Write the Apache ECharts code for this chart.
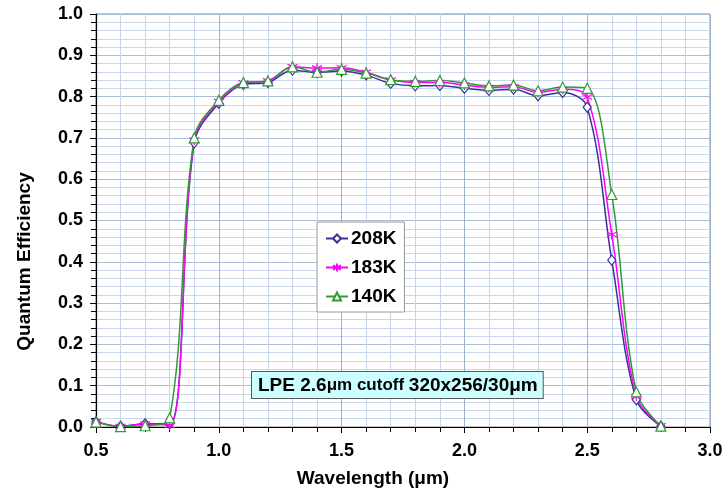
<!DOCTYPE html>
<html lang="en">
<head>
<meta charset="UTF-8">
<title>Quantum Efficiency</title>
<script src="https://cdn.jsdelivr.net/npm/echarts@6/dist/echarts.min.js"></script>
<style>
  html, body { margin: 0; padding: 0; background: #fff; }
  #chart { width: 727px; height: 493px; }
</style>
</head>
<body>
<div id="chart"></div>
<script>
// wavelength (um)
var wavelength = [0.5, 0.6, 0.7, 0.8, 0.9, 1.0, 1.1, 1.2, 1.3, 1.4, 1.5, 1.6,
                  1.7, 1.8, 1.9, 2.0, 2.1, 2.2, 2.3, 2.4, 2.5, 2.6, 2.7, 2.8];
var qe208 = [0.013, 0.002, 0.008, 0.008, 0.688, 0.784, 0.829, 0.834, 0.864, 0.858, 0.862, 0.852,
             0.832, 0.826, 0.827, 0.820, 0.815, 0.818, 0.802, 0.810, 0.774, 0.404, 0.066, 0.002];
var qe183 = [0.013, 0.001, 0.007, 0.004, 0.695, 0.788, 0.833, 0.838, 0.872, 0.869, 0.870, 0.859,
             0.840, 0.834, 0.834, 0.828, 0.822, 0.824, 0.810, 0.818, 0.799, 0.466, 0.074, 0.003];
var qe140 = [0.012, 0.001, 0.003, 0.022, 0.700, 0.791, 0.834, 0.838, 0.872, 0.859, 0.866, 0.857,
             0.841, 0.837, 0.839, 0.833, 0.826, 0.828, 0.814, 0.823, 0.820, 0.563, 0.085, 0.002];
var seriesNames = ['208K', '183K', '140K'];
var seriesColors = ['#333399', '#ff00ff', '#339933'];

var asterisk = 'path://M5,0L5,10M0.7,2.5L9.3,7.5M0.7,7.5L9.3,2.5';

function pairs(ys) {
  return wavelength.map(function (x, i) { return [x, ys[i]]; });
}

function makeSeries(name, ys, color, symbol, size) {
  return {
    name: name,
    type: 'line',
    data: pairs(ys),
    smooth: 0.35,
    symbol: symbol,
    symbolSize: size,
    showAllSymbol: true,
    lineStyle: { color: color, width: 1.5 },
    itemStyle: { color: '#ffffff', borderColor: color, borderWidth: 1.2 },
    emphasis: { disabled: true }
  };
}

var bold = 'Liberation Sans';
var chart = echarts.init(document.getElementById('chart'));
chart.setOption({
  animation: false,
  textStyle: { fontFamily: bold },
  grid: { left: 96, right: 17, top: 14, bottom: 65, show: true, borderColor: '#888888', borderWidth: 1 },
  legend: {
    orient: 'vertical',
    left: 317, top: 222,
    data: seriesNames,
    backgroundColor: '#ffffff',
    borderColor: '#999999', borderWidth: 1, borderRadius: 0,
    padding: [7, 8, 6, 8],
    itemGap: 10,
    itemWidth: 22, itemHeight: 10,
    textStyle: { fontFamily: bold, fontWeight: 'bold', fontSize: 19, color: '#000', padding: [0, 0, 0, -2] }
  },
  xAxis: {
    type: 'value',
    min: 0.5, max: 3.0, interval: 0.5,
    name: 'Wavelength (\u03bcm)',
    nameLocation: 'middle', nameGap: 42,
    nameTextStyle: { fontFamily: bold, fontWeight: 'bold', fontSize: 19, color: '#000', padding: [0, 60, 0, 0] },
    axisLine: { lineStyle: { color: '#000', width: 1.2 } },
    axisTick: { inside: false, length: 6, lineStyle: { color: '#000' } },
    minorTick: { show: true, splitNumber: 5, length: 5, lineStyle: { color: '#000' } },
    axisLabel: {
      fontFamily: bold, fontWeight: 'bold', fontSize: 18, color: '#000', margin: 15,
      formatter: function (v) { return v.toFixed(1); }
    },
    splitLine: { show: true, lineStyle: { color: '#9fb3cf', width: 1 } },
    minorSplitLine: { show: true, lineStyle: { color: '#c5d5ea', width: 1 } }
  },
  yAxis: {
    type: 'value',
    min: 0, max: 1.0, interval: 0.1,
    name: 'Quantum Efficiency',
    nameLocation: 'middle', nameGap: 62,
    nameTextStyle: { fontFamily: bold, fontWeight: 'bold', fontSize: 19, color: '#000', padding: [0, 82, 0, 0] },
    axisLine: { show: true, lineStyle: { color: '#000', width: 1.2 } },
    axisTick: { show: true, length: 6, lineStyle: { color: '#000' } },
    minorTick: { show: true, splitNumber: 5, length: 5, lineStyle: { color: '#000' } },
    axisLabel: {
      fontFamily: bold, fontWeight: 'bold', fontSize: 18, color: '#000', margin: 13,
      formatter: function (v) { return v.toFixed(1); }
    },
    splitLine: { show: true, lineStyle: { color: '#a9bcd8', width: 1 } },
    minorSplitLine: { show: true, lineStyle: { color: '#c9d8ec', width: 1 } }
  },
  graphic: [{
    type: 'text',
    left: 251, top: 371,
    z: 100,
    style: {
      text: '{a|LPE 2.6}{b|\u03bcm cutoff }{a|320x256/30\u03bcm}',
      backgroundColor: '#ccffff',
      borderColor: '#555555', borderWidth: 1,
      padding: [4, 5, 3, 6],
      rich: {
        a: { fontFamily: bold, fontWeight: 'bold', fontSize: 19, fill: '#000' },
        b: { fontFamily: bold, fontWeight: 'bold', fontSize: 17, fill: '#000' }
      }
    }
  }],
  series: [
    makeSeries(seriesNames[0], qe208, seriesColors[0], 'diamond', [8, 10]),
    makeSeries(seriesNames[1], qe183, seriesColors[1], asterisk, 10),
    makeSeries(seriesNames[2], qe140, seriesColors[2], 'triangle', 10)
  ]
});
</script>
</body>
</html>
